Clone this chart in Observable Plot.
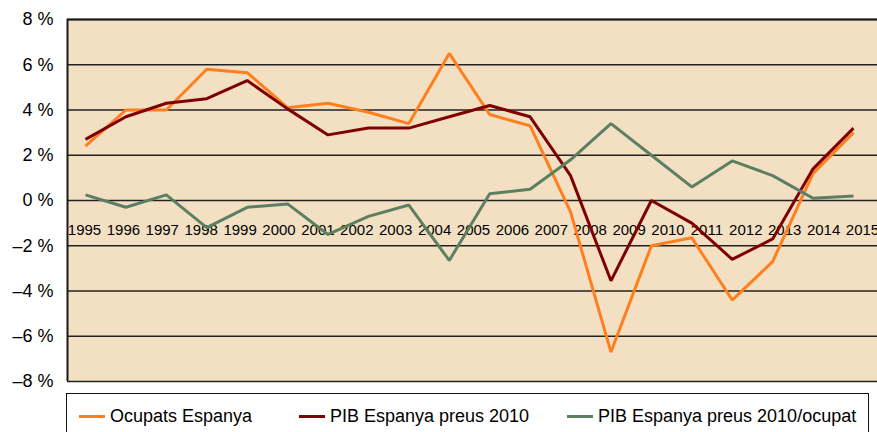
<!DOCTYPE html>
<html>
<head>
<meta charset="utf-8">
<script src="https://cdn.jsdelivr.net/npm/d3@7"></script>
<script src="https://cdn.jsdelivr.net/npm/@observablehq/plot@0.6"></script>
<style>
  html, body { margin: 0; padding: 0; background: #fff; overflow: hidden; }
  body { font-family: "Liberation Sans", Arial, sans-serif; }
  #chart svg { display: block; }
  .legend { position: relative; margin-left: 66px; margin-top: 5px; width: 803px; height: 60px;
            border: 1px solid #111; box-sizing: border-box; }
  .legend .item { position: absolute; top: 12px; display: flex; align-items: center; font-size: 18px; color: #000; white-space: nowrap; }
  .legend .sw { display: inline-block; width: 26px; height: 3px; margin-right: 5px; }
</style>
</head>
<body>
<div id="chart"></div>
<div class="legend" id="legend"></div>
<script>
// ---- data ----
const years = [1996,1997,1998,1999,2000,2001,2002,2003,2004,2005,2006,2007,2008,2009,2010,2011,2012,2013,2014,2015];
const ocupats = [2.4,4.0,4.0,5.8,5.65,4.1,4.3,3.9,3.4,6.5,3.8,3.3,-0.5,-6.7,-2.0,-1.65,-4.4,-2.7,1.2,3.0];
const pib = [2.7,3.7,4.3,4.5,5.3,4.05,2.9,3.2,3.2,3.7,4.2,3.7,1.1,-3.55,0.0,-1.0,-2.6,-1.7,1.4,3.2];
const pibOcupat = [0.25,-0.3,0.25,-1.2,-0.3,-0.15,-1.5,-0.7,-0.2,-2.65,0.3,0.5,1.8,3.4,2.0,0.6,1.75,1.1,0.1,0.2];
const seriesNames = ["Ocupats Espanya", "PIB Espanya preus 2010", "PIB Espanya preus 2010/ocupat"];
const seriesColors = ["#FF7F1E", "#7F0000", "#5B7F61"];
const yearLabels = ["1995","1996","1997","1998","1999","2000","2001","2002","2003","2004","2005","2006","2007","2008","2009","2010","2011","2012","2013","2014","2015"];
const yTicks = [-8,-6,-4,-2,0,2,4,6,8];

// ---- build table ----
const seriesValues = [ocupats, pib, pibOcupat];
const rows = [];
seriesNames.forEach((name, s) => years.forEach((yr, i) => rows.push({series: name, year: yr, value: seriesValues[s][i]})));

const xDomain = [1995.555, 2015.594];
const labelStart = 1995.975, labelStep = 0.9624; // the category labels are spaced slightly differently than the points
const labelRows = yearLabels.map((t, j) => ({t, x: labelStart + j * labelStep}));

const fmt = d => (d < 0 ? "\u2013" + Math.abs(d) : String(d)) + " %";

const chart = Plot.plot({
  width: 877,
  height: 388,
  marginTop: 19,
  marginBottom: 7,
  marginLeft: 67,
  marginRight: 0,
  style: {fontFamily: "'Liberation Sans', Arial, sans-serif", background: "#fff", overflow: "visible"},
  x: {domain: xDomain, axis: null},
  y: {domain: [-8, 8], ticks: yTicks, tickFormat: fmt, tickSize: 0, tickPadding: 14, label: null},
  color: {domain: seriesNames, range: seriesColors},
  marks: [
    Plot.frame({fill: "#F3E0C3", stroke: "none"}),
    Plot.ruleY(yTicks, {stroke: "#222", strokeWidth: 1.4}),
    Plot.ruleY([8], {stroke: "#1a1a1a", strokeWidth: 2}),
    Plot.ruleX([xDomain[0]], {stroke: "#1a1a1a", strokeWidth: 2}),
    Plot.axisY({ticks: yTicks, tickFormat: fmt, tickSize: 0, tickPadding: 14, fontSize: 18, fill: "#000", label: null}),
    Plot.text(labelRows, {x: "x", y: 0, text: "t", dy: 30, fontSize: 15, fill: "#000"}),
    Plot.line(rows, {x: "year", y: "value", z: "series", stroke: "series", strokeWidth: 3, strokeLinejoin: "miter", strokeLinecap: "butt"})
  ]
});
document.getElementById("chart").appendChild(chart);

// ---- legend ----
const legendPos = [12, 232, 500];
const legend = document.getElementById("legend");
seriesNames.forEach((name, i) => {
  const item = document.createElement("div");
  item.className = "item";
  item.style.left = legendPos[i] + "px";
  const sw = document.createElement("span");
  sw.className = "sw";
  sw.style.background = seriesColors[i];
  item.appendChild(sw);
  item.appendChild(document.createTextNode(name));
  legend.appendChild(item);
});
</script>
</body>
</html>
